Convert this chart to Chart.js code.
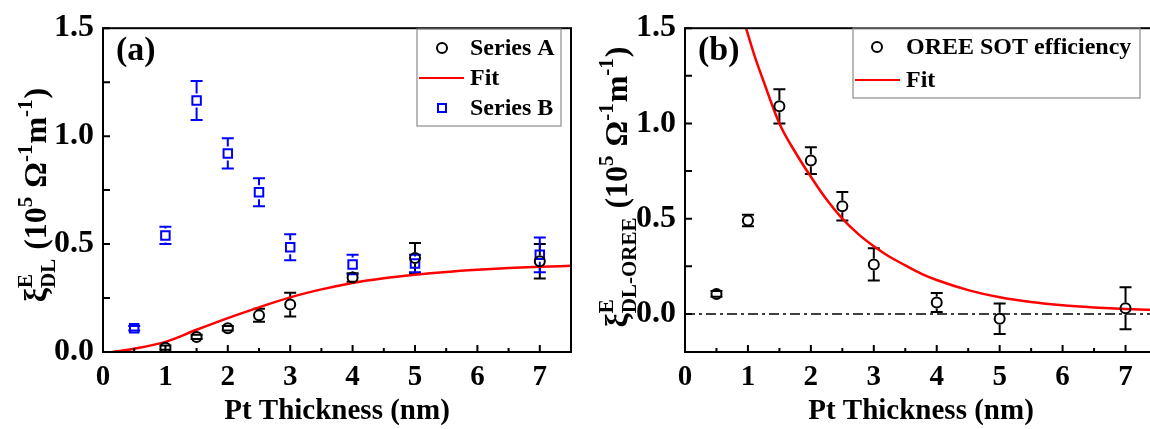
<!DOCTYPE html>
<html lang="en">
<head>
  <meta charset="UTF-8">
  <title>Pt thickness SOT efficiency</title>
  <script src="https://cdn.jsdelivr.net/npm/chart.js@4.4.1/dist/chart.umd.min.js"></script>
  <style>
    html, body {
      margin: 0;
      padding: 0;
      background: #fff;
      width: 1150px;
      height: 429px;
      overflow: hidden;
    }
    #wrap-a { position: absolute; left: 0; top: 0; }
    #wrap-b { position: absolute; left: 580px; top: 0; }
  </style>
</head>
<body>
  <div id="wrap-a"><canvas id="chart-a" width="580" height="429"></canvas></div>
  <div id="wrap-b"><canvas id="chart-b" width="600" height="429"></canvas></div>

  <script>
    // ---- data ----
    const thickness = [0.5, 1, 1.5, 2, 2.5, 3, 4, 5, 7];
    const thicknessA = [1, 1.5, 2, 2.5, 3, 4, 5, 7];

    // panel (a)
    const seriesA = [0.02, 0.07, 0.11, 0.17, 0.22, 0.345, 0.435, 0.42];
    const seriesAErr = [0.01, 0.01, 0.01, 0.03, 0.055, 0.02, 0.07, 0.08];
    const seriesB = [0.11, 0.54, 1.165, 0.92, 0.74, 0.485, 0.405, 0.41, 0.45];
    const seriesBErr = [0.01, 0.04, 0.09, 0.07, 0.065, 0.06, 0.045, 0.04, 0.08];
    const fitAX = [0.15, 0.5, 1, 1.5, 2, 2.5, 3, 3.5, 4, 4.5, 5, 5.5, 6, 6.5, 7, 7.5];
    const fitAY = [0, 0.015, 0.047, 0.103, 0.157, 0.207, 0.253, 0.29, 0.32, 0.342, 0.358, 0.371, 0.381, 0.389, 0.395, 0.399];

    // panel (b)
    const oree = [0.105, 0.49, 1.09, 0.805, 0.565, 0.26, 0.06, -0.025, 0.03];
    const oreeErr = [0.015, 0.03, 0.09, 0.07, 0.075, 0.085, 0.05, 0.08, 0.11];
    const fitBX = [0.97, 1.1, 1.25, 1.5, 1.75, 2, 2.25, 2.5, 2.75, 3, 3.25, 3.5, 3.75, 4, 4.5, 5, 5.5, 6, 6.5, 7, 7.5];
    const fitBY = [1.5, 1.36, 1.22, 1.0, 0.85, 0.72, 0.6, 0.5, 0.42, 0.355, 0.3, 0.255, 0.212, 0.178, 0.125, 0.087, 0.062, 0.045, 0.034, 0.026, 0.02];

    const xTicks = [0, 1, 2, 3, 4, 5, 6, 7];
    const yTicks = [0, 0.5, 1, 1.5];

    const SERIF = "'Liberation Serif', 'Times New Roman', serif";

    function pts(xs, ys) {
      return xs.map((x, i) => ({ x: x, y: ys[i] }));
    }

    // frame, inward ticks, error bars, panel label, legend, y title
    const figurePlugin = {
      id: 'figure',
      beforeDatasetsDraw(chart) {
        const ctx = chart.ctx;
        ctx.save();
        chart.data.datasets.forEach((ds, i) => {
          if (!ds.errors) return;
          const meta = chart.getDatasetMeta(i);
          const ys = chart.scales.y;
          ctx.strokeStyle = ds.borderColor;
          ctx.lineWidth = 2;
          meta.data.forEach((el, j) => {
            const v = ds.data[j].y, e = ds.errors[j];
            const top = ys.getPixelForValue(v + e);
            const bot = ys.getPixelForValue(v - e);
            const r = ds.pointRadius + 1;
            ctx.beginPath();
            if (el.y - top > r) { ctx.moveTo(el.x, top); ctx.lineTo(el.x, el.y - r); }
            if (bot - el.y > r) { ctx.moveTo(el.x, el.y + r); ctx.lineTo(el.x, bot); }
            ctx.moveTo(el.x - 6, top); ctx.lineTo(el.x + 6, top);
            ctx.moveTo(el.x - 6, bot); ctx.lineTo(el.x + 6, bot);
            ctx.stroke();
          });
        });
        ctx.restore();
      },
      afterDraw(chart, args, opts) {
        const ctx = chart.ctx;
        const a = chart.chartArea;
        const xs = chart.scales.x, ys = chart.scales.y;
        ctx.save();
        ctx.strokeStyle = '#000';
        ctx.lineWidth = 2;
        ctx.strokeRect(a.left, a.top, a.right - a.left, a.bottom - a.top);

        // ticks pointing inward
        ctx.beginPath();
        for (let v = 0; v <= xs.max + 1e-6; v += 0.5) {
          const px = xs.getPixelForValue(v);
          const len = Number.isInteger(v) ? 7 : 4;
          ctx.moveTo(px, a.bottom);
          ctx.lineTo(px, a.bottom - len);
        }
        for (let v = Math.ceil(ys.min / 0.25) * 0.25; v <= ys.max + 1e-6; v += 0.25) {
          const py = ys.getPixelForValue(v);
          ctx.moveTo(a.left, py);
          ctx.lineTo(a.left + 7, py);
        }
        ctx.stroke();

        // panel label
        ctx.fillStyle = '#000';
        ctx.font = 'bold 34px ' + SERIF;
        ctx.textBaseline = 'alphabetic';
        ctx.textAlign = 'left';
        ctx.fillText(opts.panel, a.left + 13, 60);

        // legend box
        const lg = opts.legend;
        ctx.strokeStyle = '#8c8c8c';
        ctx.lineWidth = 1.2;
        ctx.strokeRect(lg.x, lg.y, lg.w, lg.h);
        ctx.font = 'bold 24px ' + SERIF;
        ctx.textBaseline = 'middle';
        lg.items.forEach((it, k) => {
          const ds = chart.data.datasets[it];
          const cy = lg.y + lg.first + k * lg.row;
          const sx = lg.x + lg.sym;
          ctx.strokeStyle = ds.borderColor;
          ctx.lineWidth = 2;
          ctx.beginPath();
          if (ds.showLine) {
            ctx.moveTo(lg.x + 2, cy);
            ctx.lineTo(lg.x + lg.text - 6, cy);
          } else if (ds.pointStyle === 'rect') {
            ctx.rect(sx - 4, cy - 4, 8, 8);
          } else {
            ctx.arc(sx, cy, 5, 0, Math.PI * 2);
          }
          ctx.stroke();
          ctx.fillStyle = '#000';
          ctx.fillText(ds.label, lg.x + lg.text, cy + 1);
        });

        // y axis title with sub/superscripts
        drawRotatedTitle(ctx, opts.title, opts.titleX, opts.titleY);
        ctx.restore();
      }
    };

    function drawRotatedTitle(ctx, parts, bx, cy) {
      const big = 'bold 32px ' + SERIF;
      const small = 'bold 21px ' + SERIF;
      const widthOf = (p) => {
        if (p.t) { ctx.font = big; return ctx.measureText(p.t).width; }
        ctx.font = small;
        return Math.max(p.sup ? ctx.measureText(p.sup).width : 0,
                        p.sub ? ctx.measureText(p.sub).width : 0) + 1;
      };
      const total = parts.reduce((s, p) => s + widthOf(p), 0);
      ctx.save();
      ctx.translate(bx, cy);
      ctx.rotate(-Math.PI / 2);
      ctx.textBaseline = 'alphabetic';
      ctx.textAlign = 'left';
      ctx.fillStyle = '#000';
      let x = -total / 2;
      parts.forEach(p => {
        const w = widthOf(p);
        if (p.t) {
          ctx.font = big;
          ctx.fillText(p.t, x, 0);
        } else {
          ctx.font = small;
          if (p.sup) ctx.fillText(p.sup, x, -14);
          if (p.sub) ctx.fillText(p.sub, x, 9);
        }
        x += w;
      });
      ctx.restore();
    }

    function makeChart(id, cfg) {
      return new Chart(document.getElementById(id), {
        type: 'scatter',
        data: { datasets: cfg.datasets },
        options: {
          responsive: false,
          animation: false,
          devicePixelRatio: 1,
          layout: { padding: { top: 16, right: cfg.padRight, left: 0, bottom: 0 } },
          plugins: {
            legend: { display: false },
            tooltip: { enabled: false },
            figure: cfg.figure
          },
          scales: {
            x: {
              type: 'linear',
              min: 0,
              max: 7.5,
              afterBuildTicks: (s) => { s.ticks = xTicks.map(v => ({ value: v })); },
              afterFit: (s) => { s.height = 77; },
              grid: { display: false, drawTicks: false },
              border: { display: false },
              ticks: { font: { family: SERIF, size: 29, weight: 'bold' }, color: '#000', padding: 8 },
              title: {
                display: true,
                text: 'Pt Thickness (nm)',
                color: '#000',
                font: { family: SERIF, size: 29, weight: 'bold' },
                padding: { top: 0, bottom: 0 }
              }
            },
            y: {
              type: 'linear',
              min: cfg.yMin,
              max: 1.5,
              afterBuildTicks: (s) => { s.ticks = yTicks.map(v => ({ value: v })); },
              afterFit: (s) => { s.width = cfg.yWidth; },
              grid: { display: false, drawTicks: false },
              border: { display: false },
              ticks: {
                font: { family: SERIF, size: 32, weight: 'bold' },
                color: '#000',
                padding: 9,
                callback: (v) => v.toFixed(1)
              }
            }
          }
        },
        plugins: [figurePlugin]
      });
    }

    // panel (a)
    makeChart('chart-a', {
      yMin: 0,
      yWidth: 103,
      padRight: 9,
      datasets: [
        {
          label: 'Series A',
          data: pts(thicknessA, seriesA),
          errors: seriesAErr,
          pointStyle: 'circle',
          pointRadius: 5,
          pointBorderWidth: 2,
          borderColor: '#000',
          backgroundColor: 'rgba(0,0,0,0)'
        },
        {
          label: 'Fit',
          data: pts(fitAX, fitAY),
          showLine: true,
          pointRadius: 0,
          borderColor: '#ff0000',
          borderWidth: 2.5,
          cubicInterpolationMode: 'monotone'
        },
        {
          label: 'Series B',
          data: pts(thickness, seriesB),
          errors: seriesBErr,
          pointStyle: 'rect',
          pointRadius: 6,
          pointBorderWidth: 2,
          borderColor: '#0000ff',
          backgroundColor: 'rgba(0,0,0,0)'
        }
      ],
      figure: {
        panel: '(a)',
        legend: { x: 417, y: 29, w: 144, h: 97, first: 19, row: 30, sym: 25, text: 53, items: [0, 1, 2] },
        title: [
          { t: 'ξ' }, { sup: 'E', sub: 'DL' }, { t: ' (10' }, { sup: '5' },
          { t: ' Ω' }, { sup: '-1' }, { t: 'm' }, { sup: '-1' }, { t: ')' }
        ],
        titleX: 46,
        titleY: 195
      }
    });

    // panel (b)
    makeChart('chart-b', {
      yMin: -0.2,
      yWidth: 105,
      padRight: 23,
      datasets: [
        {
          label: 'OREE SOT efficiency',
          data: pts(thickness, oree),
          errors: oreeErr,
          pointStyle: 'circle',
          pointRadius: 5,
          pointBorderWidth: 2,
          borderColor: '#000',
          backgroundColor: 'rgba(0,0,0,0)'
        },
        {
          label: 'Fit',
          data: pts(fitBX, fitBY),
          showLine: true,
          pointRadius: 0,
          borderColor: '#ff0000',
          borderWidth: 2.5,
          cubicInterpolationMode: 'monotone'
        },
        {
          label: 'zero',
          data: [{ x: 0, y: 0 }, { x: 7.5, y: 0 }],
          showLine: true,
          pointRadius: 0,
          borderColor: '#000',
          borderWidth: 1.5,
          borderDash: [10, 4, 3, 4]
        }
      ],
      figure: {
        panel: '(b)',
        legend: { x: 273, y: 28, w: 287, h: 70, first: 19, row: 33, sym: 24, text: 53, items: [0, 1] },
        title: [
          { t: 'ξ' }, { sup: 'E', sub: 'DL-OREE' }, { t: ' (10' }, { sup: '5' },
          { t: ' Ω' }, { sup: '-1' }, { t: 'm' }, { sup: '-1' }, { t: ')' }
        ],
        titleX: 47,
        titleY: 187
      }
    });
  </script>
</body>
</html>
